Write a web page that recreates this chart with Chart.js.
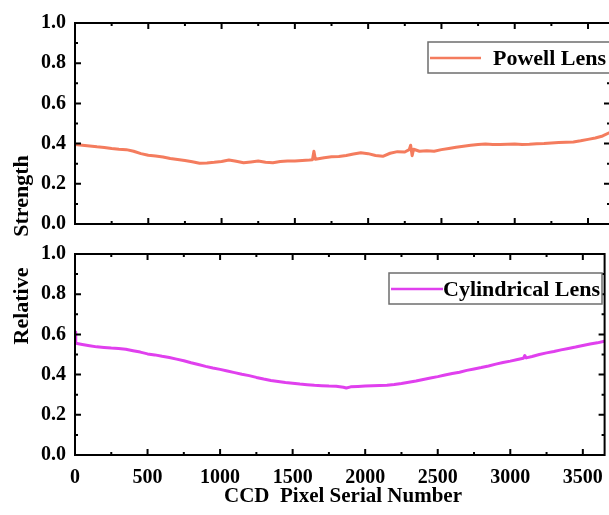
<!DOCTYPE html>
<html>
<head>
<meta charset="utf-8">
<script src="https://cdn.jsdelivr.net/npm/chart.js@4.4.0/dist/chart.umd.min.js"></script>
<style>
  html, body { margin: 0; padding: 0; overflow: hidden; background: #fff; width: 609px; height: 515px; }
  canvas { position: absolute; left: 0; top: 0; }
</style>
</head>
<body>
<canvas id="topChart" width="614" height="515"></canvas>
<canvas id="botChart" width="614" height="515"></canvas>
<script>
// data
const xTicks = [0, 500, 1000, 1500, 2000, 2500, 3000, 3500];
const yTicks = [0.0, 0.2, 0.4, 0.6, 0.8, 1.0];

const powellX = [0, 50, 100, 150, 200, 250, 300, 350, 400, 450, 500, 550, 600, 650, 700, 750, 800, 850, 900, 950,
  1000, 1050, 1100, 1150, 1200, 1250, 1300, 1350, 1400, 1450, 1500, 1550, 1600, 1620, 1630, 1640, 1700, 1750, 1800, 1850,
  1900, 1950, 2000, 2050, 2100, 2150, 2200, 2250, 2280, 2290, 2300, 2310, 2350, 2400, 2450, 2500, 2550, 2600, 2650, 2700,
  2750, 2800, 2850, 2900, 2950, 3000, 3050, 3100, 3150, 3200, 3250, 3300, 3350, 3400, 3450, 3500, 3550, 3600, 3648];
const powellY = [0.395, 0.392, 0.388, 0.384, 0.381, 0.376, 0.372, 0.370, 0.362, 0.350, 0.342, 0.338, 0.333, 0.326, 0.321, 0.316, 0.310, 0.302, 0.304, 0.307,
  0.311, 0.318, 0.312, 0.305, 0.309, 0.313, 0.307, 0.305, 0.311, 0.314, 0.313, 0.316, 0.318, 0.320, 0.362, 0.322, 0.330, 0.334, 0.336, 0.341,
  0.348, 0.354, 0.350, 0.341, 0.337, 0.352, 0.360, 0.358, 0.370, 0.392, 0.340, 0.372, 0.362, 0.365, 0.362, 0.370, 0.376, 0.382, 0.387, 0.392,
  0.396, 0.398, 0.395, 0.396, 0.397, 0.398, 0.396, 0.397, 0.399, 0.400, 0.403, 0.405, 0.407, 0.408, 0.414, 0.421, 0.428, 0.438, 0.455];

const cylX = [0, 5, 50, 100, 150, 200, 250, 300, 350, 400, 450, 500, 550, 600, 650, 700, 750, 800, 850, 900, 950,
  1000, 1050, 1100, 1150, 1200, 1250, 1300, 1350, 1400, 1450, 1500, 1550, 1600, 1650, 1700, 1750, 1800, 1850, 1870, 1900, 1950,
  2000, 2050, 2100, 2150, 2200, 2250, 2300, 2350, 2400, 2450, 2500, 2550, 2600, 2650, 2700, 2750, 2800, 2850, 2900, 2950,
  3000, 3050, 3090, 3100, 3110, 3150, 3200, 3250, 3300, 3350, 3400, 3450, 3500, 3550, 3600, 3648];
const cylY = [0.612, 0.556, 0.550, 0.544, 0.538, 0.535, 0.532, 0.530, 0.526, 0.519, 0.512, 0.503, 0.498, 0.491, 0.485, 0.477, 0.469, 0.459, 0.450, 0.441, 0.433,
  0.426, 0.418, 0.410, 0.402, 0.395, 0.386, 0.378, 0.371, 0.366, 0.361, 0.357, 0.353, 0.350, 0.347, 0.345, 0.343, 0.342, 0.337, 0.333, 0.339, 0.341,
  0.343, 0.345, 0.346, 0.347, 0.351, 0.356, 0.362, 0.368, 0.376, 0.383, 0.390, 0.398, 0.405, 0.412, 0.421, 0.428, 0.435, 0.443, 0.452, 0.460,
  0.467, 0.475, 0.481, 0.495, 0.483, 0.490, 0.500, 0.508, 0.515, 0.523, 0.530, 0.537, 0.545, 0.552, 0.558, 0.566];

const X_MAX = 3650;
const FONT = "'Liberation Serif', 'Times New Roman', serif";

const frame = {
  id: 'frame',
  afterDatasetsDraw(chart) {
    const { ctx, chartArea: a, scales: { x, y } } = chart;
    ctx.save();
    ctx.strokeStyle = '#000';
    ctx.lineWidth = 2;
    ctx.strokeRect(a.left, a.top, a.right - a.left, a.bottom - a.top);
    ctx.beginPath();
    for (let v = 0; v <= X_MAX; v += 250) {
      const px = x.getPixelForValue(v);
      const len = v % 500 === 0 ? 6 : 3;
      ctx.moveTo(px, a.bottom); ctx.lineTo(px, a.bottom - len);
      ctx.moveTo(px, a.top); ctx.lineTo(px, a.top + len);
    }
    for (let i = 0; i <= 10; i++) {
      const py = y.getPixelForValue(i / 10);
      const len = i % 2 === 0 ? 6 : 3;
      ctx.moveTo(a.left, py); ctx.lineTo(a.left + len, py);
      ctx.moveTo(a.right, py); ctx.lineTo(a.right - len, py);
    }
    ctx.stroke();
    ctx.restore();
  },
  afterDraw(chart, args, opts) {
    const ctx = chart.ctx;
    const lg = opts.legend;
    if (lg) {
      ctx.save();
      ctx.fillStyle = '#fff';
      ctx.fillRect(lg.box[0], lg.box[1], lg.box[2] - lg.box[0], lg.box[3] - lg.box[1]);
      ctx.strokeStyle = '#6e6e6e';
      ctx.lineWidth = 1.5;
      ctx.strokeRect(lg.box[0], lg.box[1], lg.box[2] - lg.box[0], lg.box[3] - lg.box[1]);
      const ds = chart.data.datasets[0];
      ctx.strokeStyle = ds.borderColor;
      ctx.lineWidth = 2.5;
      ctx.beginPath();
      ctx.moveTo(lg.line[0], lg.cy); ctx.lineTo(lg.line[1], lg.cy);
      ctx.stroke();
      ctx.fillStyle = '#000';
      ctx.font = 'bold 22px ' + FONT;
      ctx.textBaseline = 'middle';
      ctx.textAlign = 'left';
      ctx.fillText(ds.label, lg.textX, lg.cy + 1);
      ctx.restore();
    }
    if (opts.titles) {
      ctx.save();
      ctx.fillStyle = '#000';
      ctx.font = 'bold 21px ' + FONT;
      ctx.textAlign = 'center';
      ctx.textBaseline = 'middle';
      ctx.fillText('CCD  Pixel Serial Number', 343, 497);
      ctx.font = 'bold 22px ' + FONT;
      ctx.translate(22, 0);
      ctx.rotate(-Math.PI / 2);
      ctx.fillText('Relative', -306, 0);
      ctx.fillText('Strength', -196, 0);
      ctx.restore();
    }
  }
};

function makeChart(id, xs, ys, label, color, opts) {
  const pts = xs.map((v, i) => ({ x: v, y: ys[i] }));
  return new Chart(document.getElementById(id), {
    type: 'line',
    data: { datasets: [{ label, data: pts, borderColor: color, borderWidth: 3, borderJoinStyle: 'round', borderCapStyle: 'round', pointRadius: 0, tension: 0 }] },
    options: {
      responsive: false,
      animation: false,
      layout: { padding: opts.padding },
      plugins: { legend: { display: false }, tooltip: { enabled: false }, frame: opts.frame },
      scales: {
        x: {
          type: 'linear', min: 0, max: X_MAX,
          display: opts.showX,
          grid: { display: false, drawTicks: false },
          border: { display: false },
          afterBuildTicks: s => { s.ticks = xTicks.map(v => ({ value: v })); },
          afterFit: s => { s.height = opts.showX ? 60 : 0; },
          ticks: { padding: 11, maxRotation: 0, autoSkip: false, color: '#000', callback: v => String(v), font: { family: FONT, weight: 'bold', size: 20 } }
        },
        y: {
          min: 0, max: 1,
          grid: { display: false, drawTicks: false },
          border: { display: false },
          afterBuildTicks: s => { s.ticks = yTicks.map(v => ({ value: v })); },
          afterFit: s => { s.width = 75; },
          ticks: { padding: 9, color: '#000', callback: v => v.toFixed(1), font: { family: FONT, weight: 'bold', size: 20 } }
        }
      }
    },
    plugins: [frame]
  });
}

makeChart('topChart', powellX, powellY, 'Powell Lens', '#F47C5E', {
  padding: { top: 23, bottom: 291, left: 0, right: 4 },
  showX: false,
  frame: { legend: { box: [428, 42, 640, 73], line: [430, 481], cy: 58, textX: 493 } }
});

makeChart('botChart', cylX, cylY, 'Cylindrical Lens', '#E040EE', {
  padding: { top: 254, bottom: 0, left: 0, right: 4 },
  showX: true,
  frame: { legend: { box: [389, 273, 602, 304], line: [391, 443], cy: 289, textX: 443 }, titles: true }
});
</script>
</body>
</html>
